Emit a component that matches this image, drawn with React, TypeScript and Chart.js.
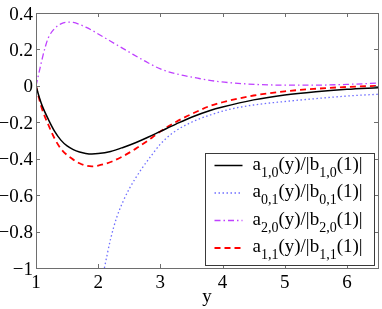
import React, { useEffect, useRef } from 'react';
import { Chart, registerables } from 'chart.js';

Chart.register(...registerables);

// ---- data ----
const xA10 = [1, 1.05, 1.1, 1.2, 1.3, 1.4, 1.5, 1.6, 1.7, 1.8, 1.9, 2.0, 2.2, 2.4, 2.6, 2.8, 3.0, 3.25, 3.5, 3.8, 4.0, 4.5, 5.0, 5.5, 6.0, 6.5];
const yA10 = [0, -0.06, -0.11, -0.185, -0.25, -0.298, -0.33, -0.35, -0.363, -0.371, -0.374, -0.372, -0.36, -0.338, -0.312, -0.282, -0.25, -0.21, -0.172, -0.135, -0.116, -0.077, -0.05, -0.032, -0.019, -0.01];

const xA01 = [2.1, 2.2, 2.3, 2.4, 2.5, 2.7, 2.85, 3.0, 3.2, 3.5, 3.8, 4.1, 4.5, 5.0, 5.5, 6.0, 6.5];
const yA01 = [-1.0, -0.84, -0.72, -0.635, -0.565, -0.455, -0.385, -0.32, -0.258, -0.2, -0.16, -0.13, -0.105, -0.086, -0.07, -0.056, -0.046];

const xA20 = [1, 1.05, 1.1, 1.15, 1.2, 1.3, 1.4, 1.5, 1.6, 1.7, 1.8, 1.9, 2.0, 2.2, 2.5, 2.8, 3.0, 3.3, 3.6, 3.9, 4.2, 4.6, 5.0, 5.5, 6.0, 6.5];
const yA20 = [0, 0.075, 0.15, 0.215, 0.265, 0.315, 0.34, 0.35, 0.348, 0.337, 0.322, 0.305, 0.285, 0.245, 0.185, 0.127, 0.093, 0.062, 0.042, 0.025, 0.015, 0.007, 0.004, 0.004, 0.008, 0.015];

const xA11 = [1, 1.05, 1.1, 1.2, 1.3, 1.4, 1.5, 1.6, 1.7, 1.8, 1.9, 2.0, 2.2, 2.4, 2.6, 2.8, 3.0, 3.25, 3.5, 3.8, 4.0, 4.5, 5.0, 5.5, 6.0, 6.5];
const yA11 = [0, -0.07, -0.13, -0.215, -0.29, -0.345, -0.38, -0.405, -0.425, -0.438, -0.442, -0.438, -0.418, -0.386, -0.346, -0.3, -0.25, -0.198, -0.155, -0.11, -0.09, -0.053, -0.03, -0.016, -0.006, 0.0];

const seriesSubs = ['1,0', '0,1', '2,0', '1,1'];
const xTicks = [1, 2, 3, 4, 5, 6];
const yTicks = [-1, -0.8, -0.6, -0.4, -0.2, 0, 0.2, 0.4];
const xTitle = 'y';

const FONT = '"Liberation Serif", "Times New Roman", serif';

const styles = [
  { color: '#000000', width: 1.5, dash: [] as number[] },
  { color: '#6f6fff', width: 1.3, dash: [1.5, 2.5] },
  { color: '#bf40ff', width: 1.3, dash: [6, 3, 1.5, 3] },
  { color: '#ff0000', width: 1.8, dash: [6, 4] },
];

const pts = (xs: number[], ys: number[]) => xs.map((x, i) => ({ x, y: ys[i] }));

const fmt = (v: number) => {
  const r = Math.round(v * 10) / 10;
  if (r === 0) return '0';
  return String(r).replace('-', '\u2212');
};

const framePlugin = {
  id: 'frame',
  afterDatasetsDraw(chart: any) {
    const { ctx, chartArea: a, scales } = chart;
    ctx.save();
    ctx.strokeStyle = '#6e6e6e';
    ctx.lineWidth = 1;
    ctx.setLineDash([]);
    ctx.strokeRect(Math.round(a.left) + 0.5, Math.round(a.top) + 0.5, Math.round(a.right - a.left), Math.round(a.bottom - a.top));
    const tl = 4;
    ctx.beginPath();
    xTicks.forEach((v) => {
      const px = Math.round(scales.x.getPixelForValue(v)) + 0.5;
      ctx.moveTo(px, a.bottom);
      ctx.lineTo(px, a.bottom - tl);
      ctx.moveTo(px, a.top);
      ctx.lineTo(px, a.top + tl);
    });
    yTicks.forEach((v) => {
      const py = Math.round(scales.y.getPixelForValue(v)) + 0.5;
      ctx.moveTo(a.left, py);
      ctx.lineTo(a.left + tl, py);
      ctx.moveTo(a.right, py);
      ctx.lineTo(a.right - tl, py);
    });
    ctx.stroke();

    // tick labels
    ctx.fillStyle = '#000';
    ctx.font = `19px ${FONT}`;
    ctx.textBaseline = 'alphabetic';
    ctx.textAlign = 'right';
    yTicks.forEach((v) => {
      const py = scales.y.getPixelForValue(v);
      ctx.fillText(fmt(v), a.left - 3, py + 6.5);
    });
    ctx.textAlign = 'center';
    xTicks.forEach((v) => {
      const px = scales.x.getPixelForValue(v);
      ctx.fillText(String(v), px, a.bottom + 20);
    });
    ctx.fillText(xTitle, (a.left + a.right) / 2, a.bottom + 34);

    // legend
    const bw = 169, bh = 112;
    const bx = Math.round(a.right - 4 - bw) + 0.5;
    const by = Math.round(a.bottom - 3 - bh) + 0.5;
    ctx.fillStyle = '#ffffff';
    ctx.fillRect(bx, by, bw, bh);
    ctx.strokeStyle = '#3a3a3a';
    ctx.strokeRect(bx, by, bw, bh);
    const mainFont = `19px ${FONT}`;
    const subFont = `14px ${FONT}`;
    seriesSubs.forEach((sub, i) => {
      const base = by + 16 + i * 27.5;
      const st = styles[i];
      ctx.save();
      ctx.strokeStyle = st.color;
      ctx.lineWidth = st.width;
      ctx.setLineDash(st.dash);
      ctx.beginPath();
      ctx.moveTo(bx + 9, base - 4);
      ctx.lineTo(bx + 37, base - 4);
      ctx.stroke();
      ctx.restore();
      ctx.fillStyle = '#000';
      ctx.textBaseline = 'alphabetic';
      ctx.textAlign = 'left';
      let tx = bx + 47;
      const parts: [string, boolean][] = [['a', false], [sub, true], ['(y)/|b', false], [sub, true], ['(1)|', false]];
      parts.forEach(([t, isSub]) => {
        ctx.font = isSub ? subFont : mainFont;
        ctx.fillText(t, tx, isSub ? base + 7 : base);
        tx += ctx.measureText(t).width;
      });
    });
    ctx.restore();
  },
};

export default function App() {
  const ref = useRef<HTMLCanvasElement>(null);
  useEffect(() => {
    document.body.style.margin = '0';
    const data = [pts(xA10, yA10), pts(xA01, yA01), pts(xA20, yA20), pts(xA11, yA11)];
    const chart = new Chart(ref.current!, {
      type: 'line',
      data: {
        datasets: data.map((d, i) => ({
          label: 'a' + seriesSubs[i],
          data: d,
          borderColor: styles[i].color,
          borderWidth: styles[i].width,
          borderDash: styles[i].dash,
          pointRadius: 0,
          fill: false,
          cubicInterpolationMode: 'monotone' as const,
        })),
      },
      options: {
        responsive: false,
        animation: false,
        devicePixelRatio: 1,
        layout: { padding: { top: 13, right: 4, left: 0, bottom: 0 } },
        plugins: { legend: { display: false }, tooltip: { enabled: false } },
        scales: {
          x: {
            type: 'linear',
            min: 1,
            max: 6.5,
            grid: { display: false },
            border: { display: false },
            afterBuildTicks: (s: any) => { s.ticks = xTicks.map((v) => ({ value: v })); },
            afterFit: (s: any) => { s.height = 41; },
            ticks: { display: false },
          },
          y: {
            type: 'linear',
            min: -1,
            max: 0.4,
            grid: { display: false },
            border: { display: false },
            afterBuildTicks: (s: any) => { s.ticks = yTicks.map((v) => ({ value: v })); },
            afterFit: (s: any) => { s.width = 36; },
            ticks: { display: false },
          },
        },
      },
      plugins: [framePlugin],
    });
    return () => chart.destroy();
  }, []);
  return (
    <div style={{ width: 382, height: 309 }}>
      <canvas ref={ref} width={382} height={309} style={{ display: 'block' }} />
    </div>
  );
}
